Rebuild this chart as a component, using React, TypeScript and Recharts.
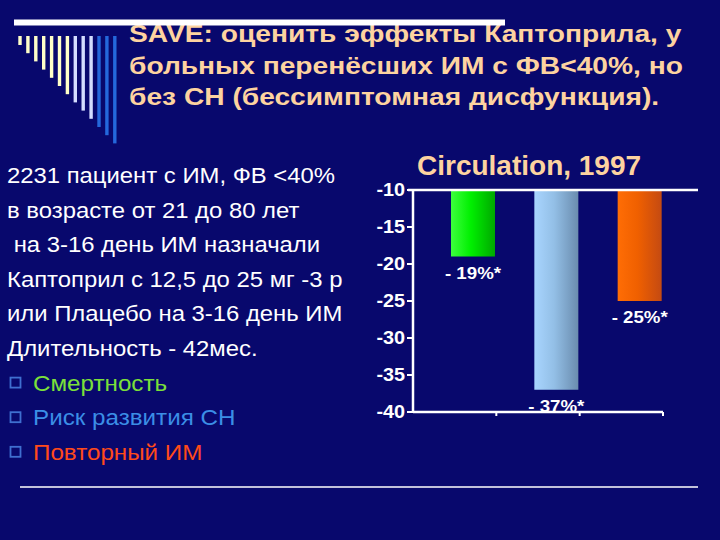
import React from 'react';
import { BarChart, Bar, XAxis, YAxis, Cell, LabelList } from 'recharts';

// ---------- data ----------
const categories = ['Смертность', 'Риск развития СН', 'Повторный ИМ'];
const reduction = [-19, -37, -25];
const spacer: (number | null)[] = [null, null, null];
const yTicks = [-10, -15, -20, -25, -30, -35, -40];
const yDomain: [number, number] = [-40, -10];

const titleLines = [
  'SAVE: оценить эффекты Каптоприла, у',
  'больных перенёсших ИМ с ФВ<40%, но',
  'без СН (бессимптомная дисфункция).',
];
const infoLines = [
  '2231 пациент с ИМ, ФВ <40%',
  'в возрасте от 21 до 80 лет',
  ' на 3-16 день ИМ назначали',
  'Каптоприл с 12,5 до 25 мг -3 р',
  'или Плацебо на 3-16 день ИМ',
  'Длительность - 42мес.',
];
const bulletLines = categories;
const chartTitle = 'Circulation, 1997';

const data = categories.map((name, i) => ({ name, spacer: spacer[i], value: reduction[i] }));

// ---------- styles ----------
const FONT = '"Liberation Sans", Arial, Helvetica, sans-serif';
const BG = '#08086d';
const PEACH = '#fdd3a0';
const gradientIds = ['gGreen', 'gBlue', 'gOrange'];
const bulletColors = ['#7be03a', '#3b8ee6', '#ff4a1a'];
const stripeColors = [
  '#ffffc8', '#ffffc8', '#ffffc8', '#ffffc8', '#ffffc8', '#ffffc8', '#ffffc8',
  '#d4ddff', '#d4ddff', '#d4ddff', '#2468dc', '#2468dc', '#2468dc',
];

const YTick = (props: any) => {
  const { x, y, payload } = props;
  return (
    <text
      transform={`translate(${x},${y}) scale(1.1,1)`}
      textAnchor="end"
      dy="0.36em"
      fill="#fff"
      fontSize={18}
      fontWeight="bold"
      fontFamily={FONT}
    >
      {payload.value}
    </text>
  );
};

const BoundaryTick = (props: any) => {
  const { x, y, payload } = props;
  const bx = x + (payload && payload.offset ? payload.offset : 0);
  return <line x1={bx} x2={bx} y1={y} y2={y + 4} stroke="#fff" strokeWidth={2} />;
};

const BarLabel = (props: any) => {
  const { x, y, width, height, value } = props;
  if (value == null) return null;
  const bottom = Math.max(Number(y), Number(y) + Number(height));
  const cx = Number(x) + Number(width) / 2;
  return (
    <text
      transform={`translate(${cx},${bottom + 22}) scale(1.1,1)`}
      textAnchor="middle"
      fill="#fff"
      fontSize={17}
      fontWeight="bold"
      fontFamily={FONT}
    >
      {`- ${Math.abs(Number(value))}%*`}
    </text>
  );
};

export default function App() {
  const lineStep = 34.6;
  return (
    <div
      style={{
        position: 'fixed',
        left: 0,
        top: 0,
        width: 720,
        height: 540,
        background: BG,
        overflow: 'hidden',
      }}
    >
      <div style={{ position: 'absolute', left: 340, top: 170 }}>
        <BarChart
          width={380}
          height={270}
          data={data}
          margin={{ top: 20, right: 57, bottom: 0, left: 0 }}
          barCategoryGap={1}
          barGap={-7}
        >
          <defs>
            <linearGradient id="gGreen" x1="0" y1="0" x2="1" y2="0">
              <stop offset="0%" stopColor="#3dff3d" />
              <stop offset="45%" stopColor="#00f000" />
              <stop offset="100%" stopColor="#00a800" />
            </linearGradient>
            <linearGradient id="gBlue" x1="0" y1="0" x2="1" y2="0">
              <stop offset="0%" stopColor="#a9d5ff" />
              <stop offset="45%" stopColor="#93bfe6" />
              <stop offset="100%" stopColor="#6a8cae" />
            </linearGradient>
            <linearGradient id="gOrange" x1="0" y1="0" x2="1" y2="0">
              <stop offset="0%" stopColor="#ff6d05" />
              <stop offset="45%" stopColor="#f06000" />
              <stop offset="100%" stopColor="#c44a12" />
            </linearGradient>
          </defs>
          <XAxis
            dataKey="name"
            axisLine={{ stroke: '#fff', strokeWidth: 2.5 }}
            tickLine={false}
            tickSize={0}
            tickMargin={0}
            tick={<BoundaryTick />}
            height={28}
            interval={0}
          />
          <XAxis
            xAxisId="top"
            orientation="top"
            dataKey="name"
            axisLine={false}
            tickLine={false}
            tickSize={0}
            tickMargin={0}
            tick={<BoundaryTick />}
            height={0}
            interval={0}
          />
          <YAxis
            domain={yDomain}
            ticks={yTicks}
            allowDataOverflow
            interval={0}
            width={73}
            axisLine={{ stroke: '#fff', strokeWidth: 2.5 }}
            tickLine={{ stroke: '#fff', strokeWidth: 2 }}
            tickSize={6}
            tickMargin={2}
            tick={<YTick />}
          />
          <Bar dataKey="spacer" isAnimationActive={false} />
          <Bar dataKey="value" isAnimationActive={false}>
            {data.map((d, i) => (
              <Cell key={d.name} fill={`url(#${gradientIds[i]})`} />
            ))}
            <LabelList dataKey="value" content={<BarLabel />} />
          </Bar>
        </BarChart>
      </div>

      <svg
        width={720}
        height={540}
        style={{ position: 'absolute', left: 0, top: 0, pointerEvents: 'none' }}
      >
        {/* slide title */}
        {titleLines.map((t, i) => (
          <text
            key={t}
            transform={`translate(129,${42 + i * 31.5}) scale(1.15,1)`}
            fill={PEACH}
            fontSize={24.5}
            fontWeight="bold"
            fontFamily={FONT}
          >
            {t}
          </text>
        ))}
        {/* top rule */}
        <rect x={14} y={19.5} width={491} height={6} fill="#ffffff" />
        {/* stripes */}
        {stripeColors.map((c, i) => (
          <rect key={i} x={18.3 + i * 7.9} y={36} width={3.4} height={9 + i * 8.2} fill={c} />
        ))}
        {/* left info text */}
        {infoLines.map((t, i) => (
          <text
            key={t}
            transform={`translate(7,${183 + i * lineStep}) scale(1.085,1)`}
            fill="#fff"
            fontSize={22}
            fontFamily={FONT}
            style={{ whiteSpace: 'pre' }}
          >
            {t}
          </text>
        ))}
        {bulletLines.map((t, i) => {
          const by = 183 + (infoLines.length + i) * lineStep;
          return (
            <g key={t}>
              <rect x={10.5} y={by - 13} width={10} height={10} fill="none" stroke="#3f6fd0" strokeWidth={1.8} />
              <text
                transform={`translate(33,${by}) scale(1.1,1)`}
                fill={bulletColors[i]}
                fontSize={22}
                fontFamily={FONT}
              >
                {t}
              </text>
            </g>
          );
        })}
        {/* bottom rule */}
        <line x1={20} x2={698} y1={487} y2={487} stroke="#fff" strokeWidth={1.5} />
        {/* chart title */}
        <text
          x={417}
          y={175}
          fill={PEACH}
          fontSize={28}
          fontWeight="bold"
          fontFamily={FONT}
        >
          {chartTitle}
        </text>
        {/* chart top frame line */}
        <line x1={408} x2={698} y1={190} y2={190} stroke="#fff" strokeWidth={2.5} />
      </svg>
    </div>
  );
}
